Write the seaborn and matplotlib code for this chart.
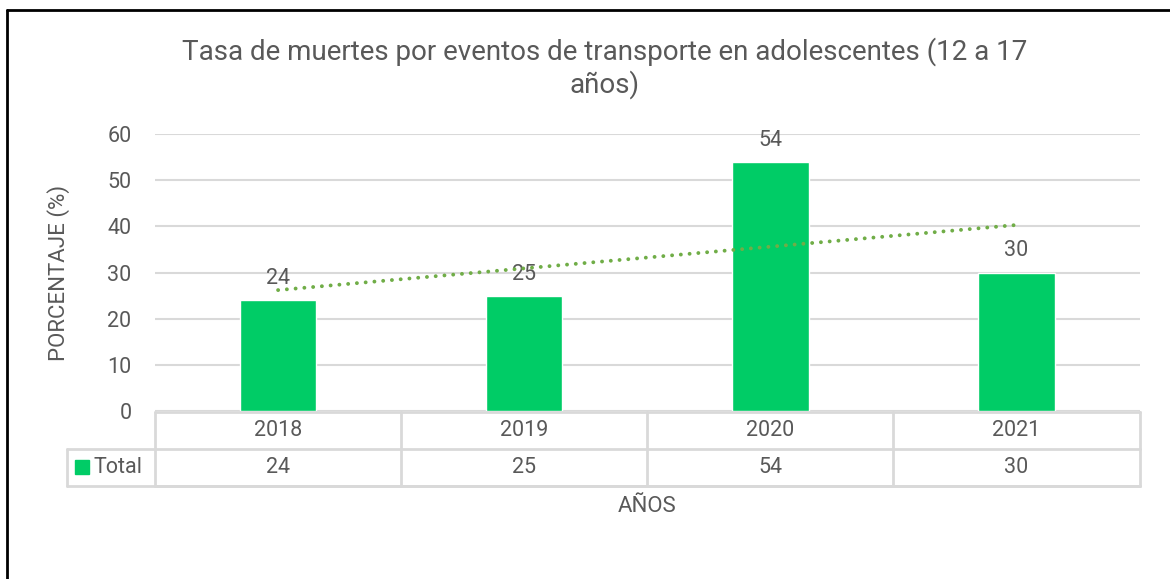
import numpy as np
import pandas as pd
import seaborn as sns
import matplotlib.pyplot as plt
from matplotlib.lines import Line2D
from matplotlib.patches import Rectangle
from matplotlib import transforms

# datos
anios = ["2018", "2019", "2020", "2021"]
total = [24, 25, 54, 30]
serie = "Total"

titulo = "Tasa de muertes por eventos de transporte en adolescentes (12 a 17\naños)"

sns.set_style("white")
plt.rcParams['font.family'] = ['Roboto', 'DejaVu Sans']

TXT = "#595959"
GRID = "#d9d9d9"
BAR = "#00cc66"
TREND = "#70ad47"
FS = 15.5

df = pd.DataFrame({"Año": anios, "Total": total})

fig = plt.figure(figsize=(11.7, 5.79), dpi=100)
ax = fig.add_axes([0.1325, 0.290, 0.8415, 0.4786])

sns.barplot(data=df, x="Año", y="Total", color=BAR, width=0.31,
            saturation=1, ax=ax)

# linea de tendencia lineal (como Excel)
xs = np.arange(len(total))
m, b = np.polyfit(xs + 1, total, 1)
ax.plot(xs, m * (xs + 1) + b, color=TREND, linestyle=(0, (0.01, 2.25)),
        linewidth=2.8, dash_capstyle="round", zorder=4)

# etiquetas de datos
for i, v in enumerate(total):
    ax.annotate(str(v), (i, v), xytext=(0, 8), textcoords="offset points",
                ha="center", va="bottom", fontsize=FS, color=TXT)

ax.set_xlim(-0.5, len(anios) - 0.5)
ax.set_ylim(0, 60)
ax.set_yticks(range(0, 61, 10))
ax.yaxis.grid(True, color=GRID, linewidth=1.5)
ax.set_axisbelow(True)
for s in ax.spines.values():
    s.set_visible(False)
ax.tick_params(axis="y", labelsize=FS, labelcolor=TXT, length=0, pad=17)
ax.set_xticks([])
ax.set_xlabel("")
ax.set_ylabel("PORCENTAJE (%)", fontsize=16, color=TXT)
ax.yaxis.set_label_coords(-0.0863, 0.5)

# tabla de datos
tr = transforms.blended_transform_factory(ax.transData, fig.transFigure)
y_top, y_mid, y_bot = 1 - 412 / 579, 1 - 449 / 579, 1 - 486 / 579
x0, x1 = -0.5, len(anios) - 0.5
xl = 67 / 1170
trf = fig.transFigure
kw = dict(color=GRID, linewidth=2, clip_on=False)
fig.add_artist(Line2D([x0, x1], [y_top, y_top], transform=tr, **kw))
fig.add_artist(Line2D([x0, x1], [y_bot, y_bot], transform=tr, **kw))
fig.add_artist(Line2D([xl, 1140 / 1170], [y_mid, y_mid], transform=trf, **kw))
fig.add_artist(Line2D([xl, 1140 / 1170], [y_bot, y_bot], transform=trf, **kw))
fig.add_artist(Line2D([xl, xl], [y_mid, y_bot], transform=trf, **kw))
for k in range(len(anios) + 1):
    fig.add_artist(Line2D([k - 0.5, k - 0.5], [y_top, y_bot], transform=tr, **kw))
for i, (a, v) in enumerate(zip(anios, total)):
    fig.text(i, (y_top + y_mid) / 2, a, transform=tr, ha="center",
             va="center", fontsize=FS, color=TXT)
    fig.text(i, (y_mid + y_bot) / 2, str(v), transform=tr, ha="center",
             va="center", fontsize=FS, color=TXT)
fig.add_artist(Rectangle((75 / 1170, 1 - 474 / 579), 14 / 1170, 14 / 579,
                         transform=fig.transFigure, color=BAR))
fig.text(94 / 1170, (y_mid + y_bot) / 2, serie, ha="left", va="center",
         fontsize=FS, color=TXT)

fig.text(647 / 1170, 1 - 507 / 579, "AÑOS", ha="center", va="center",
         fontsize=16, color=TXT)
fig.text(605 / 1170, 1 - 68 / 579, titulo, ha="center", va="center",
         fontsize=20, color=TXT, linespacing=1.2)

# borde
fig.add_artist(Line2D([7 / 1170, 7 / 1170], [0, 1 - 10 / 579],
                      transform=fig.transFigure, color="black", linewidth=2))
fig.add_artist(Line2D([7 / 1170, 1], [1 - 10 / 579, 1 - 10 / 579],
                      transform=fig.transFigure, color="black", linewidth=2))

fig.savefig("out.png", dpi=100, facecolor="white")
